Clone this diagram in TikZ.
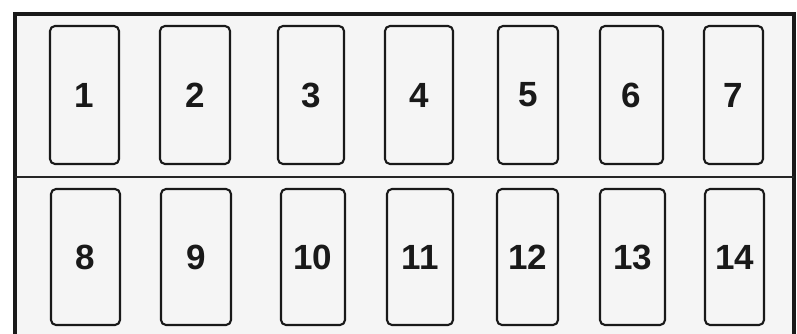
\documentclass[tikz,border=0pt]{standalone}
\usepackage{fontspec}
\setmainfont{Liberation Sans}
\begin{document}
\begin{tikzpicture}[x=1pt,y=-1pt,
  fusebox/.style={draw=black!90, line width=2.1pt, rounded corners=5pt, inner sep=0pt,
    font=\fontsize{35}{35}\selectfont\bfseries, text=black!90},
  frameline/.style={draw=black!90, line width=3.2pt},
  divline/.style={draw=black!85, line width=2.2pt}]
\useasboundingbox (0,0) rectangle (797,334);
\fill[white] (0,0) rectangle (797,334);
\fill[black!4] (15,14) rectangle (794,340);
\coordinate (tl) at (15,14);
\coordinate (tr) at (794,14);
\coordinate (bl) at (15,340);
\coordinate (br) at (794,340);
\coordinate (dl) at (15,177);
\coordinate (dr) at (794,177);
\draw[frameline] (bl) -- (tl) -- (tr) -- (br);
\draw[divline] (dl) -- (dr);
% top row
\foreach \n/\a/\b in {1/50/119, 2/160/230, 3/278/344, 4/385/453, 5/498/558, 6/600/663, 7/704/763}{
  \pgfmathsetmacro{\cx}{(\a+\b)/2}
  \pgfmathsetmacro{\w}{\b-\a}
  \node[fusebox, minimum width=\w pt, minimum height=138pt] (f\n) at (\cx,95) {\n};
}
% bottom row
\foreach \n/\a/\b in {8/51/120, 9/161/231, 10/281/345, 11/387/453, 12/497/558, 13/600/665, 14/705/764}{
  \pgfmathsetmacro{\cx}{(\a+\b)/2}
  \pgfmathsetmacro{\w}{\b-\a}
  \node[fusebox, minimum width=\w pt, minimum height=136pt] (f\n) at (\cx,257) {\n};
}
\end{tikzpicture}
\end{document}
